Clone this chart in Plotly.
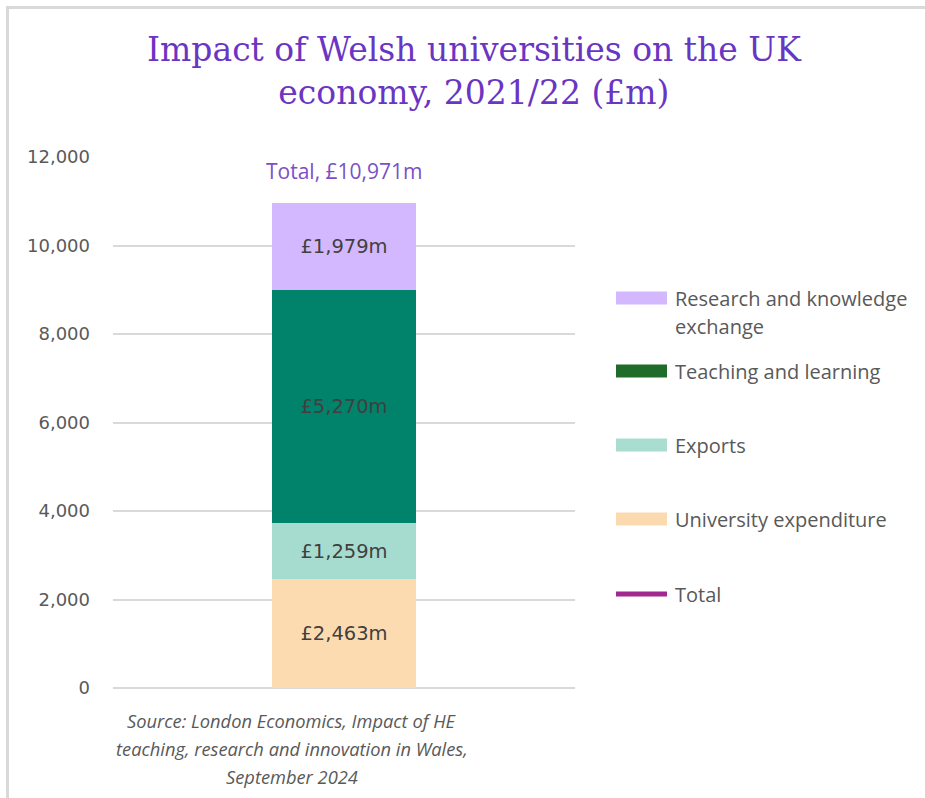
import plotly.graph_objects as go

# Economic impact components, £m (stacked bottom to top)
category = ["2021/22"]
component_names = [
    "University expenditure",
    "Exports",
    "Teaching and learning",
    "Research and knowledge<br>exchange",
]
component_values = [2463, 1259, 5270, 1979]
total_value = 10971
bar_colors = ["#FDDBB0", "#A6DCCF", "#00836A", "#D4B8FF"]
legend_colors = ["#FCDAB0", "#A8DDD0", "#1E6B2A", "#D3B7FF"]
total_color = "#A0288F"
y_ticks = [0, 2000, 4000, 6000, 8000, 10000, 12000]

# pixel geometry of the plot area
W, H = 925, 798
L, R, T, B = 113, 575, 157, 688
pw, ph = R - L, B - T


def px_x(x):
    return (x - L) / pw


def px_y(y):
    return (B - y) / ph


fig = go.Figure()

for name, val, col in zip(component_names, component_values, bar_colors):
    fig.add_trace(go.Bar(
        x=category, y=[val], name=name.replace("<br>", " "),
        marker=dict(color=col, line=dict(width=0)),
        width=0.312,
        text=[f"£{val:,}m"], texttemplate="%{text}",
        textposition="inside", insidetextanchor="middle",
        textfont=dict(family="DejaVu Sans", size=19.5, color="#404040"),
        showlegend=False,
    ))

# total series (single point)
fig.add_trace(go.Scatter(
    x=category, y=[total_value], mode="lines", name="Total",
    line=dict(color=total_color, width=4), showlegend=False,
))

shapes = []
annotations = []

# label above the stack stating the total
annotations.append(dict(
    x=category[0], y=total_value, xref="x", yref="y",
    text=f"Total, £{total_value:,}m", showarrow=False,
    yshift=32, font=dict(family="Open Sans", size=21, color="#7B4FC9"),
))

# legend drawn beside the plot
legend_rows = [
    (component_names[3], legend_colors[3], 298),
    (component_names[2], legend_colors[2], 371),
    (component_names[1], legend_colors[1], 445),
    (component_names[0], legend_colors[0], 519),
]
for name, col, yc in legend_rows:
    shapes.append(dict(
        type="rect", xref="paper", yref="paper",
        x0=px_x(616), x1=px_x(667), y0=px_y(yc + 6.5), y1=px_y(yc - 6.5),
        fillcolor=col, line=dict(width=0),
    ))
    for i, line in enumerate(name.split("<br>")):
        annotations.append(dict(
            xref="paper", yref="paper", x=px_x(673), y=px_y(yc + 28 * i),
            xanchor="left", yanchor="middle", text=line, showarrow=False,
            font=dict(family="Open Sans", size=20, color="#595959"),
        ))
shapes.append(dict(
    type="line", xref="paper", yref="paper",
    x0=px_x(616), x1=px_x(667), y0=px_y(594), y1=px_y(594),
    line=dict(color=total_color, width=5),
))
annotations.append(dict(
    xref="paper", yref="paper", x=px_x(673), y=px_y(594),
    xanchor="left", yanchor="middle", text="Total", showarrow=False,
    font=dict(family="Open Sans", size=20, color="#595959"),
))

# chart title
annotations.append(dict(
    xref="paper", yref="paper", x=px_x(474), y=px_y(71),
    xanchor="center", yanchor="middle", showarrow=False,
    text="Impact of Welsh universities on the UK<br>economy, 2021/22 (£m)",
    font=dict(family="DejaVu Serif", size=33, color="#6B35C4"),
))

# source note
source_lines = [
    "Source: London Economics, Impact of HE",
    "teaching, research and innovation in Wales,",
    "September 2024",
]
for i, line in enumerate(source_lines):
    annotations.append(dict(
        xref="paper", yref="paper", x=px_x(292), y=px_y(720 + 28 * i),
        xanchor="center", yanchor="middle", showarrow=False,
        text=f"<i>{line}</i>",
        font=dict(family="Open Sans", size=18.3, color="#595959"),
    ))

# outer frame: top and left edges
frame = dict(color="#D9D9D9", width=3)
shapes.append(dict(type="line", xref="paper", yref="paper",
                   x0=px_x(6), x1=px_x(925), y0=px_y(7.5), y1=px_y(7.5),
                   line=frame))
shapes.append(dict(type="line", xref="paper", yref="paper",
                   x0=px_x(7.5), x1=px_x(7.5), y0=px_y(6), y1=px_y(798),
                   line=frame))

fig.layout.annotations = annotations
fig.layout.shapes = shapes

fig.update_layout(
    width=W, height=H,
    margin=dict(l=L, r=W - R, t=T, b=H - B),
    barmode="stack",
    plot_bgcolor="white", paper_bgcolor="white",
    showlegend=False,
    xaxis=dict(range=[-0.5, 0.5], showticklabels=False, showgrid=False,
               zeroline=False, showline=False, fixedrange=True),
    yaxis=dict(range=[0, 12000], tickvals=y_ticks,
               ticktext=[f"{v:,}" for v in y_ticks],
               showgrid=True, gridcolor="#D9D9D9", gridwidth=2,
               zeroline=True, zerolinecolor="#D9D9D9", zerolinewidth=2,
               showline=False, ticks="", ticklabelstandoff=22,
               tickfont=dict(family="DejaVu Sans", size=18, color="#595959")),
    uniformtext=dict(minsize=10, mode="show"),
)

fig.write_html("out.html")
